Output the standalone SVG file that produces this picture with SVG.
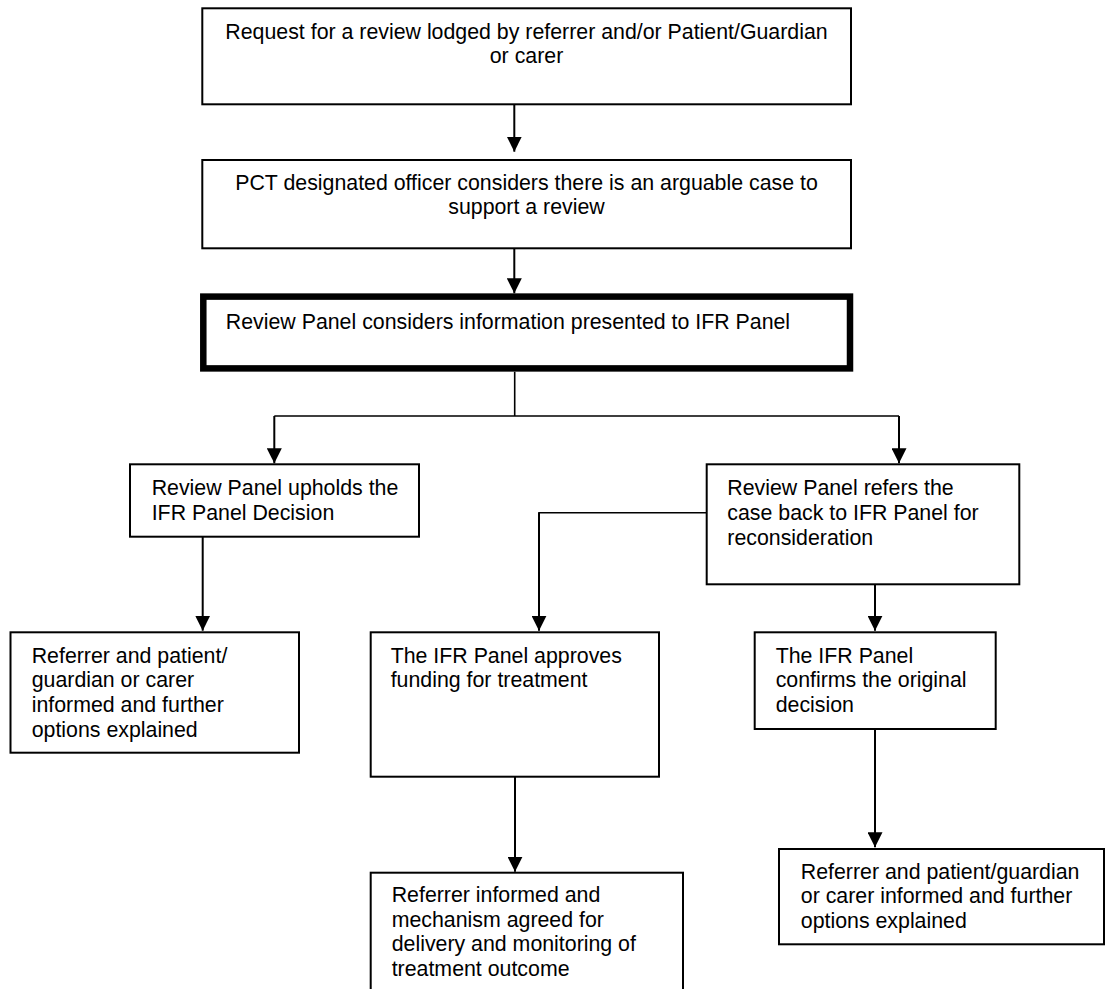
<svg xmlns="http://www.w3.org/2000/svg" width="1110" height="989" viewBox="0 0 1110 989">
<style>
.box{fill:#fff;stroke:#000;stroke-width:2}
.thick{fill:#fff;stroke:#000;stroke-width:6.5}
text{font-family:"Liberation Sans",Arial,sans-serif;font-size:21.33px;fill:#000}
.c{text-anchor:middle}
.ln{fill:none;stroke:#000;stroke-width:1.6}
.ar{fill:none;stroke:#000;stroke-width:2;marker-end:url(#ah)}
</style>
<defs>
<marker id="ah" markerUnits="userSpaceOnUse" markerWidth="16" markerHeight="15" refX="15" refY="7.5" orient="auto">
<path d="M0,0 L15,7.5 L0,15 z" fill="#000"/>
</marker>
</defs>
<rect width="1110" height="989" fill="#fff"/>
<g id="connectors">
<path class="ar" d="M514.3,104.3 V151.7"/>
<path class="ar" d="M514.3,248.3 V293.3"/>
<path class="ln" d="M514.7,371.7 V416 M274.3,416 H899"/>
<path class="ar" d="M274.3,416 V463.3"/>
<path class="ar" d="M899,416 V463.3"/>
<path class="ar" d="M202.7,536.7 V630.7"/>
<path class="ln" d="M706.7,512.7 H539 V540"/>
<path class="ar" d="M539,512.7 V630.7"/>
<path class="ar" d="M875,584.3 V630.7"/>
<path class="ar" d="M515,776.7 V871.7"/>
<path class="ar" d="M875,729 V847.3"/>
</g>
<g id="n1">
<rect class="box" x="202.3" y="8.3" width="648.7" height="96"/>
<text class="c" x="526.5" y="39.3">Request for a review lodged by referrer and/or Patient/Guardian</text>
<text class="c" x="526.5" y="63">or carer</text>
</g>
<g id="n2">
<rect class="box" x="202.3" y="160" width="648.7" height="88.3"/>
<text class="c" x="526.5" y="190">PCT designated officer considers there is an arguable case to</text>
<text class="c" x="526.5" y="213.5">support a review</text>
</g>
<g id="n3">
<rect class="thick" x="203.3" y="296.6" width="646.7" height="71.8"/>
<text x="225.8" y="328.5">Review Panel considers information presented to IFR Panel</text>
</g>
<g id="n4">
<rect class="box" x="130" y="464.3" width="289" height="72.4"/>
<text x="151.7" y="495">Review Panel upholds the</text>
<text x="151.7" y="520">IFR Panel Decision</text>
</g>
<g id="n5">
<rect class="box" x="706.7" y="464.3" width="312.6" height="120"/>
<text x="727.3" y="495">Review Panel refers the</text>
<text x="727.3" y="520">case back to IFR Panel for</text>
<text x="727.3" y="544.5">reconsideration</text>
</g>
<g id="n6">
<rect class="box" x="10.5" y="632.3" width="288.5" height="120.4"/>
<text x="31.7" y="662.7">Referrer and patient/</text>
<text x="31.7" y="687.3">guardian or carer</text>
<text x="31.7" y="712">informed and further</text>
<text x="31.7" y="736.7">options explained</text>
</g>
<g id="n7">
<rect class="box" x="370.7" y="632.3" width="288.3" height="144.4"/>
<text x="390.7" y="662.7">The IFR Panel approves</text>
<text x="390.7" y="687.3">funding for treatment</text>
</g>
<g id="n8">
<rect class="box" x="754.7" y="632.3" width="241" height="96.7"/>
<text x="775.7" y="662.7">The IFR Panel</text>
<text x="775.7" y="687.3">confirms the original</text>
<text x="775.7" y="712">decision</text>
</g>
<g id="n9">
<rect class="box" x="370.7" y="872.7" width="312.3" height="130"/>
<text x="391.7" y="901.7">Referrer informed and</text>
<text x="391.7" y="926.5">mechanism agreed for</text>
<text x="391.7" y="951.3">delivery and monitoring of</text>
<text x="391.7" y="976">treatment outcome</text>
</g>
<g id="n10">
<rect class="box" x="779" y="849" width="325" height="95.3"/>
<text x="800.8" y="878.8">Referrer and patient/guardian</text>
<text x="800.8" y="903.3">or carer informed and further</text>
<text x="800.8" y="927.5">options explained</text>
</g>
</svg>
